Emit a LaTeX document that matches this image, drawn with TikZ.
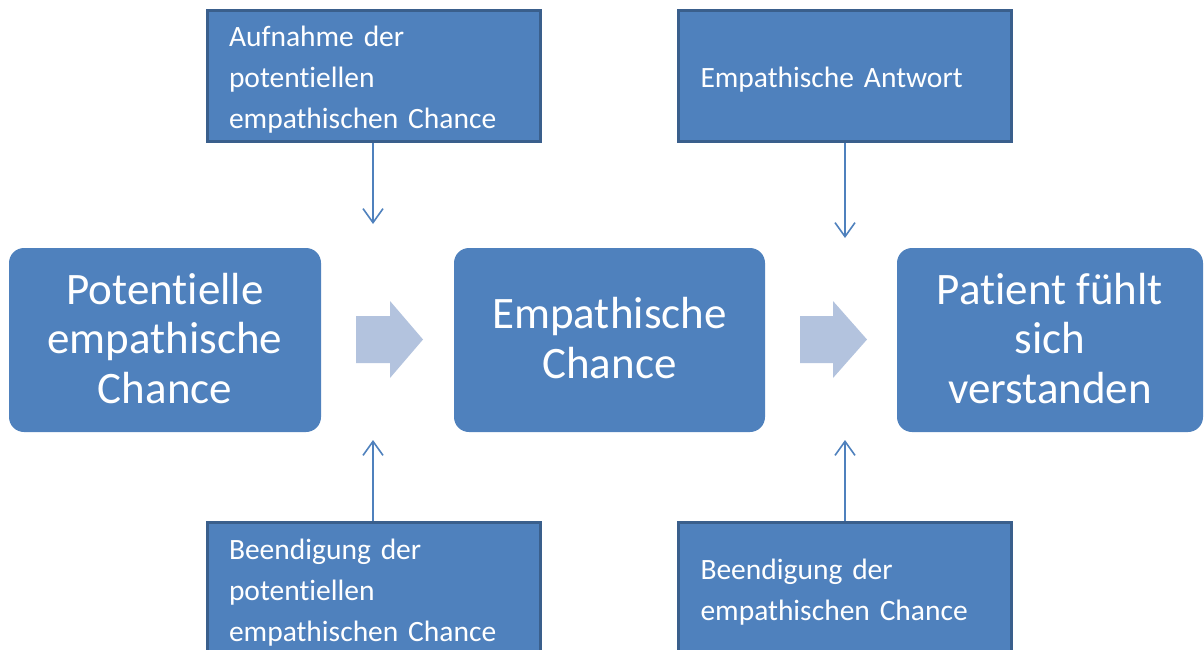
\documentclass[tikz,border=0pt]{standalone}
\usepackage{fontspec}
\setmainfont{Carlito}[Ligatures=NoCommon]
\usetikzlibrary{arrows.meta}
\definecolor{boxfill}{HTML}{4F81BD}
\definecolor{boxrim}{HTML}{3A5F8C}
\definecolor{flowarrow}{HTML}{B3C3DE}
\begin{document}
\begin{tikzpicture}[x=1pt,y=-1pt,
  stage/.style={fill=boxfill, rounded corners=15pt, minimum width=312pt,
    minimum height=184pt, text=white, align=center, inner sep=0pt,
    text depth=4pt, font=\fontsize{45}{49.5}\selectfont},
  note/.style={fill=boxfill, draw=boxrim, line width=3pt, minimum height=131pt,
    minimum width=333pt, inner sep=0pt},
  notetext/.style={text width=289pt, inner sep=0pt, text=white, align=left,
    font=\fontsize{29.5}{41}\selectfont},
  link/.style={draw=boxfill, line width=1.6pt, -{Straight Barb[length=14pt,width=20pt,line width=1.6pt]}},
  blockarrow/.style={fill=flowarrow}]
\useasboundingbox (0,0) rectangle (1204,650);
\begin{scope}
\clip (0,0) rectangle (1204,650);

% main stages
\node[stage] (pot) at (165,340) {Potentielle\\empathische\\Chance};
\node[stage, minimum width=311pt] (emp) at (609.5,340) {Empathische\\Chance};
\node[stage, minimum width=306pt] (pat) at (1050,340) {Patient fühlt\\sich\\verstanden};

% flow arrows between the stages
\fill[blockarrow] (356,316) -- (390,316) -- (390,301) -- (423,339.5) -- (390,378) -- (390,363) -- (356,363) -- cycle;
\fill[blockarrow] (800,316) -- (833,316) -- (833,301) -- (867,339.5) -- (833,378) -- (833,363) -- (800,363) -- cycle;

% side notes: framed boxes with their captions
\node[note] (aufn) at (373.5,76) {};
\node[note] (antw) at (845,76) {};
\node[note] (beendpot) at (373.5,587.5) {};
\node[note] (beendemp) at (845,587.5) {};

\node[notetext] (aufnText) at ([yshift=-4pt]aufn.center) {Aufnahme der\\potentiellen\\empathischen Chance};
\node[notetext] (antwText) at ([yshift=-4pt]antw.center) {Empathische Antwort};
\node[notetext] (beendpotText) at ([yshift=-5pt]beendpot.center) {Beendigung der\\potentiellen\\empathischen Chance};
\node[notetext] (beendempText) at ([yshift=-5pt]beendemp.center) {Beendigung der\\empathischen Chance};

% arrow ends
\coordinate (aufnEnd) at (373,224);
\coordinate (antwEnd) at (845,238);
\coordinate (beendpotEnd) at (373,440);
\coordinate (beendempEnd) at (845,440);

\draw[link] (aufn.south -| aufnEnd) -- (aufnEnd);
\draw[link] (antw.south -| antwEnd) -- (antwEnd);
\draw[link] (beendpot.north -| beendpotEnd) -- (beendpotEnd);
\draw[link] (beendemp.north -| beendempEnd) -- (beendempEnd);
\end{scope}
\end{tikzpicture}
\end{document}
